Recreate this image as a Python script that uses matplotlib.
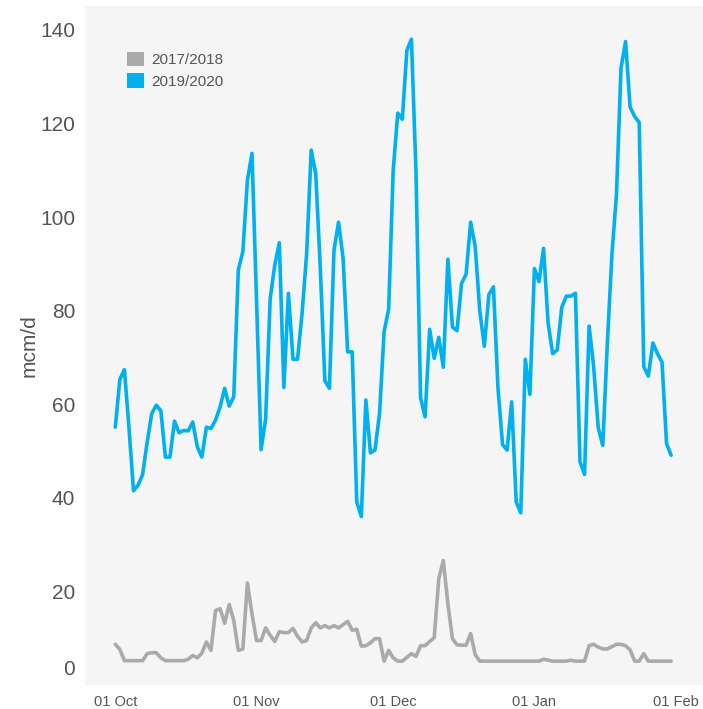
import matplotlib
matplotlib.use("Agg")
import matplotlib.pyplot as plt
import matplotlib.dates as mdates
from matplotlib.patches import Patch
import pandas as pd

dates = pd.date_range("2019-10-01", "2020-01-31", freq="D")

series_names = ["2017/2018", "2019/2020"]

flow_2017_2018 = [
    8.7, 7.6, 5.2, 5.2, 5.2, 5.2, 5.2, 6.7, 6.9, 6.9,
    5.8, 5.2, 5.2, 5.2, 5.2, 5.2, 5.5, 6.3, 5.8, 6.8,
    9.2, 7.4, 15.9, 16.3, 13.2, 17.2, 13.8, 7.4, 7.7, 21.8,
    15.2, 9.5, 9.5, 12.2, 10.6, 9.3, 11.4, 11.2, 11.2, 12.1,
    10.4, 9.2, 9.5, 12.2, 13.3, 12.2, 12.7, 12.2, 12.7, 12.2,
    12.9, 13.6, 11.7, 11.9, 8.3, 8.4, 9.0, 9.9, 9.9, 5.1,
    7.4, 5.8, 5.1, 5.1, 5.9, 6.7, 6.1, 8.4, 8.4, 9.3,
    10.1, 22.7, 26.6, 17.4, 9.9, 8.6, 8.5, 8.5, 11.0, 6.5,
    5.1, 5.1, 5.1, 5.1, 5.1, 5.1, 5.1, 5.1, 5.1, 5.1,
    5.1, 5.1, 5.1, 5.1, 5.5, 5.3, 5.1, 5.1, 5.1, 5.1,
    5.3, 5.1, 5.1, 5.1, 8.4, 8.7, 8.1, 7.7, 7.7, 8.2,
    8.7, 8.7, 8.4, 7.5, 5.1, 5.1, 6.7, 5.1, 5.1, 5.1,
    5.1, 5.1, 5.1,
]

flow_2019_2020 = [
    55.1, 65.3, 67.4, 55.0, 41.5, 42.7, 45.0, 51.9, 58.0, 59.8,
    58.6, 48.7, 48.7, 56.4, 53.9, 54.4, 54.3, 56.2, 50.9, 48.7,
    55.1, 54.8, 56.6, 59.4, 63.4, 59.6, 61.6, 88.7, 92.6, 107.9,
    113.6, 82.2, 50.3, 56.9, 82.6, 89.7, 94.5, 63.6, 83.7, 69.6,
    69.6, 79.4, 92.2, 114.3, 109.2, 89.0, 65.0, 63.4, 92.9, 98.9,
    91.2, 71.2, 71.2, 39.1, 36.0, 60.9, 49.6, 50.2, 58.0, 75.5,
    80.3, 110.0, 122.2, 120.9, 135.6, 138.0, 109.7, 61.4, 57.3, 76.0,
    69.8, 74.3, 67.9, 91.0, 76.5, 75.7, 85.8, 87.8, 98.9, 93.7,
    80.0, 72.4, 83.4, 85.1, 63.4, 51.4, 50.2, 60.5, 39.1, 36.8,
    69.6, 62.1, 89.0, 86.2, 93.3, 77.3, 70.8, 71.6, 80.7, 83.1,
    83.1, 83.7, 47.7, 45.0, 76.7, 68.0, 55.0, 51.2, 73.0, 91.9,
    104.7, 131.8, 137.5, 123.5, 121.5, 120.2, 68.0, 66.0, 73.1, 70.8,
    69.0, 51.6, 49.1,
]

x_tick_dates = ["2019-10-01", "2019-11-01", "2019-12-01", "2020-01-01", "2020-02-01"]
x_tick_labels = ["01 Oct", "01 Nov", "01 Dec", "01 Jan", "01 Feb"]
y_ticks = [20, 40, 60, 80, 100, 120, 140]

colors = ["#aaaaaa", "#00b0f0"]

plt.rcParams["font.family"] = ["Liberation Sans", "DejaVu Sans"]

fig = plt.figure(figsize=(7.03, 7.09), dpi=100)
W, H = 703, 709
ax = fig.add_axes([85 / W, (H - 685) / H, (703 - 85) / W, (685 - 6) / H])
ax.set_facecolor("#f5f5f5")
for s in ax.spines.values():
    s.set_visible(False)

ax.plot(dates, flow_2017_2018, color=colors[0], lw=2.6, solid_joinstyle="round", solid_capstyle="round")
ax.plot(dates, flow_2019_2020, color=colors[1], lw=2.6, solid_joinstyle="round", solid_capstyle="round")

x0 = pd.Timestamp("2019-10-01")
ax.set_xlim(mdates.date2num(x0 - pd.Timedelta(days=6.65)), mdates.date2num(x0 + pd.Timedelta(days=129.0)))
ax.set_ylim(0, 145.1)

ax.set_xticks([mdates.date2num(pd.Timestamp(d)) for d in x_tick_dates])
ax.set_xticklabels(x_tick_labels, fontsize=10.5, color="#555555")
ax.set_yticks(y_ticks)
ax.set_yticklabels([str(v) for v in y_ticks], fontsize=15, color="#555555")
ax.tick_params(axis="both", length=0)
ax.tick_params(axis="x", pad=7)
ax.tick_params(axis="y", pad=7)

# zero label shown nudged upward as in the reference
ax.annotate("0", xy=(0, 0), xycoords=("axes fraction", "data"),
            xytext=(-7, 11.5), textcoords="offset points",
            ha="right", va="center", fontsize=15, color="#555555")

ax.set_ylabel("mcm/d", fontsize=15, color="#555555", labelpad=1)

handles = [Patch(facecolor=c, edgecolor="none") for c in colors]
ax.legend(handles, series_names, loc="upper left", bbox_to_anchor=(0.046, 0.953),
          frameon=False, fontsize=11, labelcolor="#555555",
          handlelength=1.1, handleheight=1.1, handletextpad=0.45, labelspacing=0.4)

fig.savefig("out.png", dpi=100)
